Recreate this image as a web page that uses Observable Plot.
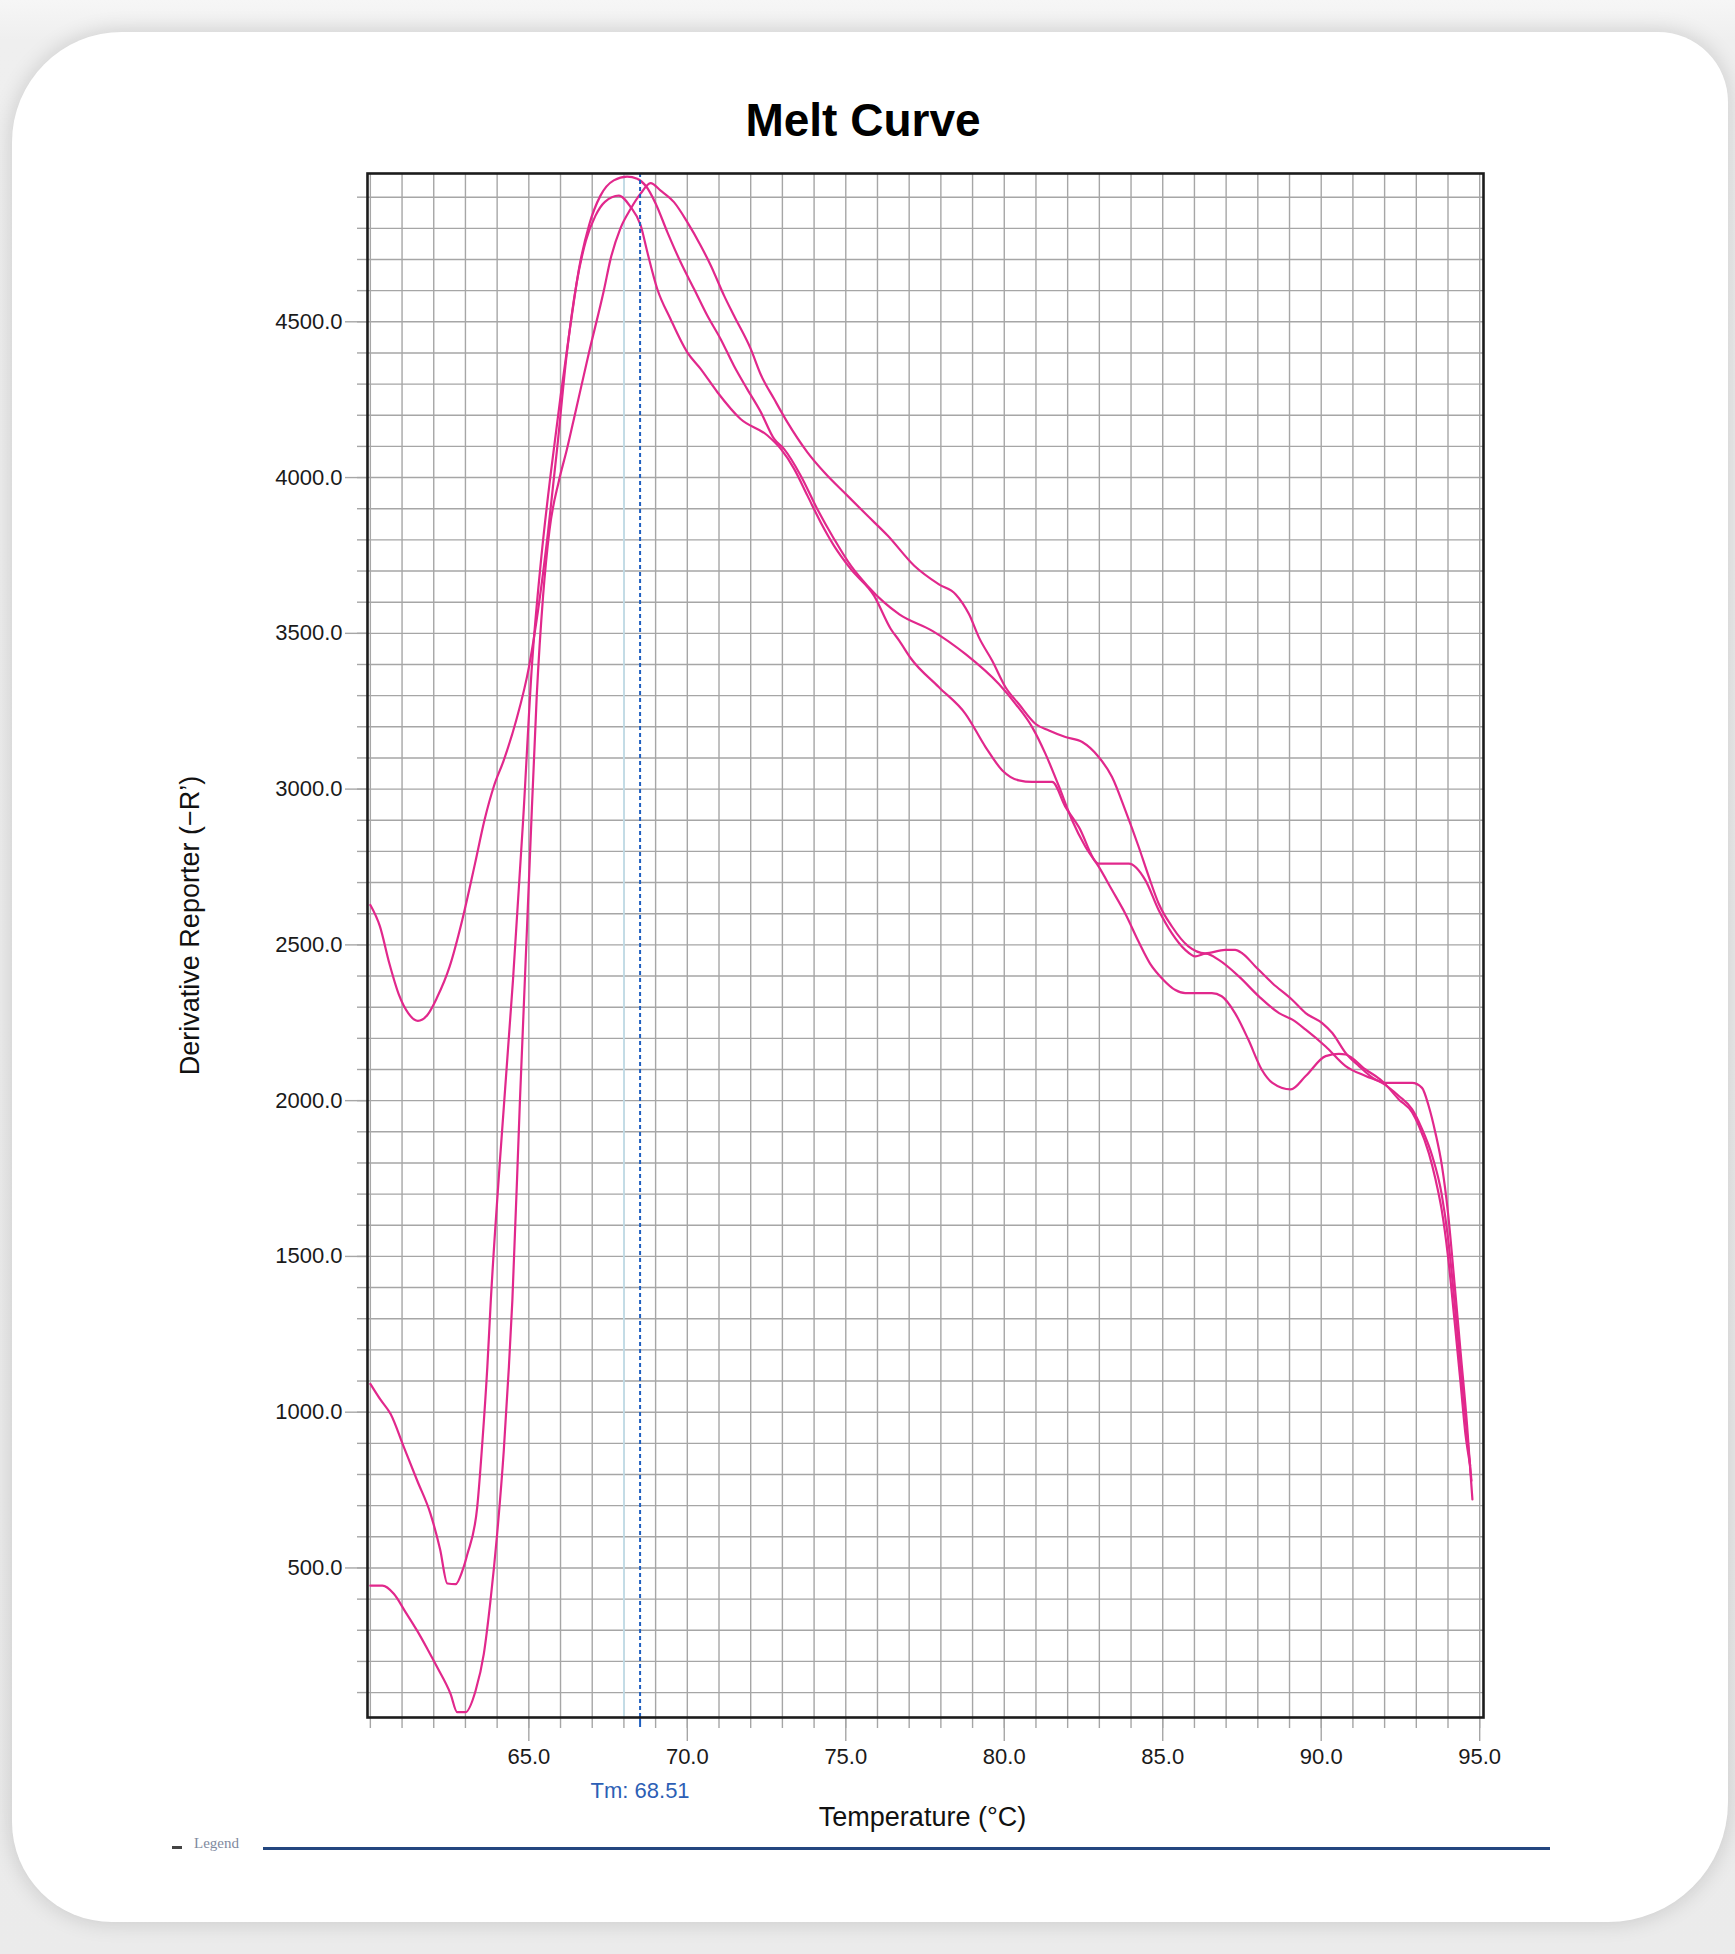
<!DOCTYPE html>
<html>
<head>
<meta charset="utf-8">
<script src="https://cdn.jsdelivr.net/npm/d3@7"></script>
<script src="https://cdn.jsdelivr.net/npm/@observablehq/plot@0.6"></script>
<style>
html, body { margin: 0; padding: 0; }
body { width: 1735px; height: 1954px; position: relative; overflow: hidden;
  background: linear-gradient(#f6f6f6 0px, #efefef 40px, #ebebeb 100%);
  font-family: "Liberation Sans", Arial, sans-serif; }
#card { position: absolute; left: 12px; top: 32px; width: 1716px; height: 1890px; background: #fff;
  border-radius: 110px 70px 120px 100px; box-shadow: 0 0 22px rgba(0,0,0,0.16); }
#title { position: absolute; left: 0; width: 1726px; top: 97px; text-align: center;
  font: bold 46px/46px "Liberation Sans", Arial, sans-serif; color: #000; }
#chart { position: absolute; left: 0; top: 150px; }
#legendLine { position: absolute; left: 263px; top: 1847px; width: 1287px; height: 2.5px; background: #23467f; }
#legendDash { position: absolute; left: 172px; top: 1846px; width: 10px; height: 3px; background: #444; }
#legendText { position: absolute; left: 194px; top: 1836px;
  font: 15px/15px "Liberation Serif", serif; color: #7f8aa0; }
</style>
</head>
<body>
<div id="card"></div>
<div id="title">Melt Curve</div>
<div id="chart"></div>
<div id="legendDash"></div>
<div id="legendText">Legend</div>
<div id="legendLine"></div>
<script>
// ---- data ----
const tempsA = [60.0, 60.3, 60.6, 60.9, 61.2, 61.5, 61.8, 62.1, 62.5, 62.9, 63.3, 63.6, 63.9, 64.2, 64.6, 65.0, 65.3, 65.6, 65.9, 66.2, 66.5, 66.8, 67.1, 67.4, 67.84, 68.2, 68.53, 68.74, 69.05, 69.47, 70.0, 70.42, 70.95, 71.68, 72.53, 72.95, 73.37, 73.79, 74.21, 74.63, 75.16, 75.89, 76.42, 76.69, 77.05, 77.94, 78.78, 79.41, 79.94, 80.46, 80.88, 81.51, 81.93, 82.35, 82.98, 83.93, 84.45, 84.87, 85.29, 85.71, 86.03, 86.36, 86.78, 87.41, 88.04, 88.67, 89.09, 89.51, 90.14, 90.77, 91.4, 91.92, 92.45, 92.87, 93.18, 93.5, 93.8, 94.0, 94.2, 94.4, 94.6, 94.74];
const valuesA = [2628, 2560, 2440, 2340, 2280, 2256, 2275, 2330, 2430, 2580, 2760, 2900, 3010, 3090, 3220, 3390, 3580, 3820, 4100, 4400, 4620, 4760, 4840, 4885, 4905, 4870, 4809, 4723, 4606, 4509, 4402, 4349, 4274, 4188, 4135, 4092, 4028, 3942, 3856, 3781, 3706, 3621, 3514, 3476, 3420, 3327, 3241, 3135, 3060, 3028, 3023, 3023, 2943, 2879, 2761, 2761, 2708, 2612, 2537, 2484, 2463, 2472, 2451, 2398, 2334, 2281, 2260, 2228, 2174, 2111, 2079, 2057, 2015, 1972, 1909, 1823, 1700, 1560, 1360, 1140, 930, 780];

const tempsB = [60.0, 60.32, 60.64, 61.06, 61.48, 61.9, 62.2, 62.43, 62.69, 62.9, 63.06, 63.37, 63.53, 63.69, 63.8, 64.09, 64.5, 64.82, 65.1, 65.4, 65.7, 66.0, 66.3, 66.6, 66.9, 67.26, 67.68, 68.1, 68.42, 68.7, 69.0, 69.37, 69.79, 70.21, 70.63, 71.05, 71.47, 71.89, 72.32, 72.74, 73.05, 73.58, 74.1, 74.63, 75.16, 75.68, 76.2, 76.69, 77.73, 78.78, 79.83, 80.36, 80.88, 81.3, 81.72, 82.14, 82.56, 82.98, 83.4, 83.82, 84.24, 84.6, 85.0, 85.4, 85.71, 86.55, 86.86, 87.28, 87.7, 88.12, 88.46, 89.04, 89.51, 90.14, 90.56, 90.77, 91.4, 91.92, 92.45, 92.87, 93.08, 93.4, 93.6, 93.8, 94.0, 94.2, 94.4, 94.55, 94.7];
const valuesB = [1091, 1040, 994, 887, 780, 673, 560, 450, 448, 490, 544, 694, 898, 1144, 1358, 1810, 2387, 2900, 3400, 3750, 4020, 4260, 4480, 4680, 4810, 4905, 4954, 4966, 4959, 4935, 4880, 4788, 4691, 4606, 4520, 4445, 4359, 4284, 4210, 4124, 4092, 4006, 3899, 3803, 3717, 3653, 3600, 3561, 3508, 3433, 3337, 3273, 3199, 3113, 3010, 2900, 2815, 2751, 2676, 2600, 2510, 2440, 2390, 2355, 2345, 2345, 2335, 2281, 2196, 2100, 2057, 2036, 2079, 2143, 2150, 2148, 2100, 2063, 2004, 1962, 1919, 1830, 1750, 1650, 1500, 1300, 1090, 930, 830];

const tempsC = [60.0, 60.38, 60.74, 61.1, 61.48, 61.8, 62.11, 62.53, 62.74, 63.0, 63.32, 63.58, 63.79, 64.0, 64.21, 64.37, 64.48, 64.72, 65.03, 65.25, 65.45, 65.65, 65.95, 66.2, 66.47, 66.9, 67.37, 67.58, 67.89, 68.21, 68.53, 68.84, 69.16, 69.58, 70.0, 70.42, 70.74, 71.16, 71.47, 72.0, 72.32, 72.74, 73.16, 73.79, 74.32, 75.05, 75.68, 76.32, 77.16, 77.94, 78.47, 78.89, 79.2, 79.62, 80.04, 80.46, 80.99, 81.41, 81.93, 82.46, 82.98, 83.4, 83.82, 84.24, 84.56, 84.87, 85.29, 85.81, 86.34, 86.97, 87.28, 87.52, 87.93, 88.46, 89.09, 89.51, 90.03, 90.35, 90.77, 91.19, 91.71, 92.03, 92.45, 92.87, 93.18, 93.39, 93.6, 93.81, 94.0, 94.2, 94.4, 94.6, 94.77];
const valuesC = [443, 443, 417, 360, 298, 240, 181, 96, 37, 37, 106, 224, 395, 609, 877, 1144, 1358, 2002, 2772, 3300, 3620, 3830, 3990, 4090, 4210, 4402, 4602, 4702, 4800, 4862, 4912, 4945, 4921, 4884, 4820, 4745, 4681, 4584, 4520, 4413, 4330, 4252, 4177, 4081, 4017, 3942, 3878, 3814, 3717, 3657, 3625, 3561, 3487, 3412, 3327, 3273, 3209, 3188, 3167, 3151, 3103, 3039, 2932, 2815, 2719, 2633, 2559, 2495, 2473, 2484, 2484, 2472, 2430, 2377, 2323, 2281, 2249, 2217, 2153, 2111, 2068, 2057, 2057, 2057, 2041, 1983, 1898, 1790, 1640, 1420, 1190, 960, 720];

const tmValue = 68.51;
const tmSecondary = 68.0;
const xMinorTicks = d3.range(60, 96, 1);
const xMajorTicks = [65, 70, 75, 80, 85, 90, 95];
const yMinorTicks = d3.range(100, 5000, 100);
const yMajorTicks = [500, 1000, 1500, 2000, 2500, 3000, 3500, 4000, 4500];
const xLabel = "Temperature (°C)";
const yLabel = "Derivative Reporter (−R’)";

// ---- build rows ----
const rows = [];
[[tempsA, valuesA, "A"], [tempsB, valuesB, "B"], [tempsC, valuesC, "C"]].forEach(([t, v, w]) => {
  t.forEach((tt, i) => rows.push({well: w, temp: tt, value: v[i]}));
});

const grid = "#a6a6a6";
const curveColor = "#e1288c";

const chart = Plot.plot({
  width: 1735,
  height: 1700,
  marginLeft: 367,
  marginRight: 252,
  marginTop: 23,
  marginBottom: 133,
  style: {background: "transparent", fontFamily: "'Liberation Sans', Arial, sans-serif", color: "#1a1a1a"},
  x: {domain: [59.91, 95.12]},
  y: {domain: [20, 4976]},
  marks: [
    Plot.gridX(xMinorTicks, {stroke: grid, strokeOpacity: 1, strokeWidth: 1.4}),
    Plot.gridY(yMinorTicks, {stroke: grid, strokeOpacity: 1, strokeWidth: 1.4}),
    Plot.ruleX([tmSecondary], {stroke: "#c4e2ef", strokeWidth: 1.6}),
    Plot.axisX(xMinorTicks, {tickSize: 11, stroke: grid, strokeWidth: 1.4, tickFormat: () => "", label: null}),
    Plot.axisX(xMajorTicks, {tickSize: 24, tickPadding: 7, stroke: grid, strokeWidth: 1.4, fill: "#1a1a1a",
      fontSize: 22, tickFormat: d => d.toFixed(1), label: null}),
    Plot.axisY(yMinorTicks, {tickSize: 10, stroke: grid, strokeWidth: 1.4, tickFormat: () => "", label: null}),
    Plot.axisY(yMajorTicks, {tickSize: 22, tickPadding: 3, stroke: grid, strokeWidth: 1.4, fill: "#1a1a1a",
      fontSize: 22, tickFormat: d => d.toFixed(1), label: null}),
    Plot.line(rows, {x: "temp", y: "value", z: "well", stroke: curveColor, strokeWidth: 2.2, curve: "monotone-x"}),
    Plot.ruleX([tmValue], {stroke: "#1f5fbf", strokeWidth: 2, strokeDasharray: "4,3"}),
    Plot.axisX([tmValue], {tickSize: 10, stroke: "#1f5fbf", strokeWidth: 2, tickFormat: () => "", label: null}),
    Plot.frame({stroke: "#1c1c1c", strokeWidth: 2.6}),
    Plot.text([tmValue], {x: d => d, frameAnchor: "bottom", dy: 73, lineAnchor: "middle", textAnchor: "middle",
      text: d => `Tm: ${d.toFixed(2)}`, fill: "#2d5fb5", fontSize: 22}),
    Plot.text([xLabel], {frameAnchor: "bottom", dy: 100, dx: -3, lineAnchor: "middle", textAnchor: "middle",
      text: d => d, fill: "#111", fontSize: 27}),
    Plot.text([yLabel], {frameAnchor: "left", dx: -177, dy: -20, rotate: -90, lineAnchor: "middle", textAnchor: "middle",
      text: d => d, fill: "#111", fontSize: 27})
  ]
});
document.getElementById("chart").appendChild(chart);
</script>
</body>
</html>
